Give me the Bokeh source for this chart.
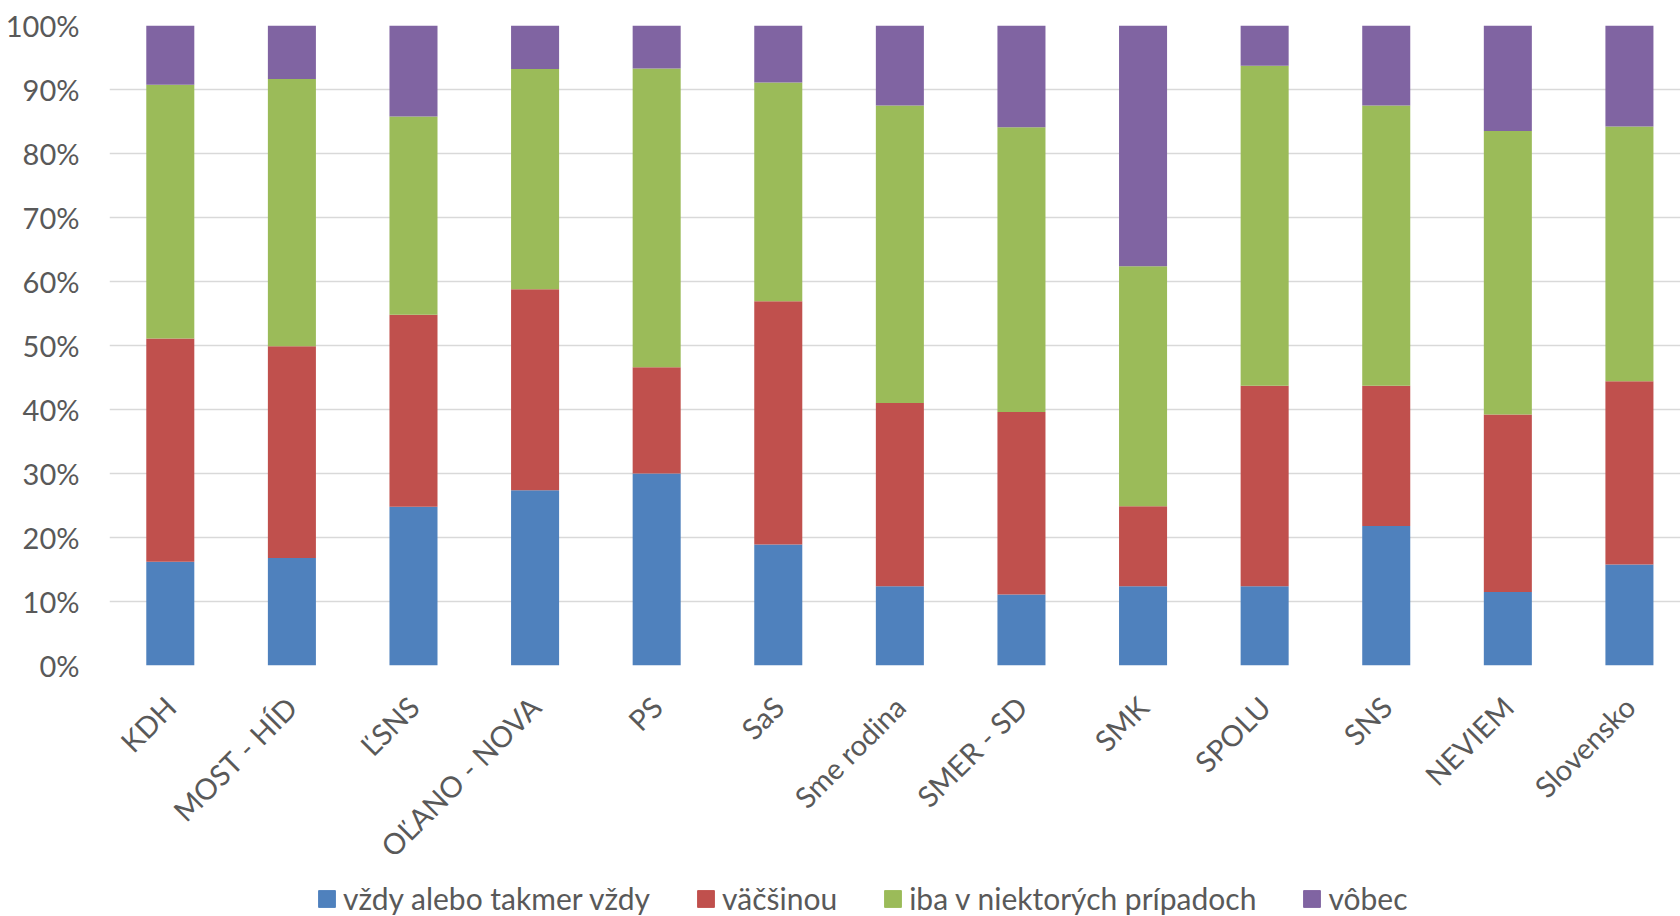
import math
from bokeh.plotting import figure
from bokeh.layouts import column
from bokeh.models import (ColumnDataSource, Range1d, FixedTicker, PrintfTickFormatter,
                          Legend, LegendItem)
from bokeh.embed import file_html
from bokeh.resources import INLINE

categories = ["KDH", "MOST - HÍD", "ĽSNS", "OĽANO - NOVA", "PS", "SaS", "Sme rodina",
              "SMER - SD", "SMK", "SPOLU", "SNS", "NEVIEM", "Slovensko"]
vzdy = [16.2, 16.8, 24.8, 27.4, 30.0, 18.9, 12.4, 11.1, 12.4, 12.4, 21.8, 11.5, 15.8]
vacsinou = [34.9, 33.1, 30.0, 31.4, 16.6, 38.0, 28.6, 28.5, 12.5, 31.3, 21.9, 27.7, 28.6]
iba = [39.65, 41.75, 31.0, 34.4, 46.7, 34.2, 46.5, 44.5, 37.5, 50.0, 43.8, 44.3, 39.8]
vobec = [9.25, 8.35, 14.2, 6.8, 6.7, 8.9, 12.5, 15.9, 37.6, 6.3, 12.5, 16.5, 15.8]
series_names = ["vždy alebo takmer vždy", "väčšinou", "iba v niektorých prípadoch", "vôbec"]
colors = ["#4F81BD", "#C0504D", "#9BBB59", "#8064A2"]
y_ticks = list(range(0, 101, 10))

FONT = "Lato"
TEXT_COLOR = "#595959"
FS = "29px"

x = list(range(len(categories)))
source = ColumnDataSource(dict(x=x, s0=vzdy, s1=vacsinou, s2=iba, s3=vobec))

p = figure(width=1680, height=878, output_backend="svg", toolbar_location=None,
           x_range=Range1d(-0.5, 12.42), y_range=Range1d(0, 100),
           min_border_left=109, min_border_right=0, min_border_top=25,
           min_border_bottom=204)

renderers = p.vbar_stack(["s0", "s1", "s2", "s3"], x="x", width=0.395, source=source,
                         color=colors, line_color=None)

p.outline_line_color = None
p.background_fill_color = "white"
p.border_fill_color = "white"
p.xgrid.grid_line_color = None
p.ygrid.grid_line_color = "#D9D9D9"
p.ygrid.grid_line_width = 1.5

p.yaxis.ticker = FixedTicker(ticks=y_ticks)
p.yaxis.formatter = PrintfTickFormatter(format="%d%%")
p.xaxis.ticker = FixedTicker(ticks=x)
p.xaxis.major_label_overrides = {i: c for i, c in enumerate(categories)}
p.xaxis.major_label_orientation = math.pi / 4

for ax in (p.xaxis, p.yaxis):
    ax.axis_line_color = None
    ax.major_tick_line_color = None
    ax.minor_tick_line_color = None
    ax.major_tick_in = 0
    ax.major_tick_out = 0
    ax.major_label_text_font = FONT
    ax.major_label_text_font_size = FS
    ax.major_label_text_color = TEXT_COLOR
p.yaxis.major_label_standoff = 30
p.xaxis.major_label_standoff = 36

# Legend strip underneath (separate figure so the legend lies inside a frame)
lg = figure(width=1680, height=38, output_backend="svg", toolbar_location=None,
            x_range=Range1d(0, 1571), y_range=Range1d(0, 38),
            x_axis_type=None, y_axis_type=None,
            min_border_left=109, min_border_right=0, min_border_top=0, min_border_bottom=0)
lg.outline_line_color = None
lg.xgrid.visible = False
lg.ygrid.visible = False
swatches = []
for c in colors:
    swatches.append(lg.vbar(x="x", top="top", width=1, color=c,
                            source=ColumnDataSource(dict(x=[-1000], top=[0]))))

legend = Legend(items=[LegendItem(label=n, renderers=[r]) for n, r in zip(series_names, swatches)],
                orientation="horizontal", location=(207, 0),
                label_text_font=FONT, label_text_font_size="30px",
                label_text_color=TEXT_COLOR, glyph_width=21, glyph_height=21,
                spacing=45, label_standoff=6, padding=0, margin=0,
                border_line_color=None, background_fill_alpha=0)
lg.add_layout(legend, "center")

layout = column(p, lg, spacing=0)
open("out.html", "w").write(file_html(layout, INLINE))
